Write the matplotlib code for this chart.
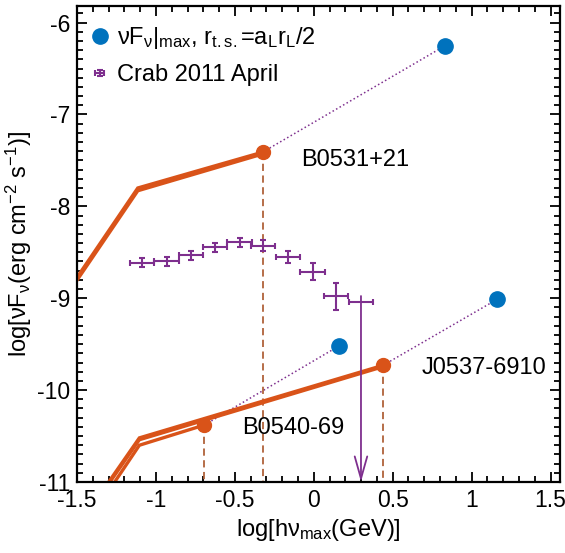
import numpy as np
import matplotlib.pyplot as plt
from matplotlib.container import ErrorbarContainer
from matplotlib.legend_handler import HandlerErrorbar

plt.rcParams['font.family'] = ['Liberation Sans', 'DejaVu Sans']
plt.rcParams['mathtext.fontset'] = 'custom'
plt.rcParams['mathtext.rm'] = 'Liberation Sans'
plt.rcParams['mathtext.it'] = 'Liberation Sans'

# maximum of nu F_nu for r_ts = a_L r_L / 2 (blue)
blue_x = [0.833, 0.159, 1.163]
blue_y = [-6.25, -9.52, -9.01]

# peak points of the model spectra (orange): B0531+21, B0540-69, J0537-6910
peak_x = [-0.324, -0.693, 0.439]
peak_y = [-7.41, -10.38, -9.73]

# model spectra (two slightly different lines each)
b0531_x = [-1.55, -1.115, -0.324]
b0531_y1 = [-8.90, -7.80, -7.41]
b0531_y2 = [-8.93, -7.83, -7.43]
b0540_x = [-1.32, -1.105, -0.693]
b0540_y = [-11.15, -10.60, -10.38]
j0537_x = [-1.36, -1.105, 0.439]
j0537_y1 = [-11.15, -10.52, -9.73]
j0537_y2 = [-11.17, -10.54, -9.745]

# Crab 2011 April flare
crab_x = [-1.089, -0.933, -0.778, -0.625, -0.470, -0.322, -0.163, -0.008, 0.140]
crab_y = [-8.611, -8.596, -8.531, -8.444, -8.393, -8.429, -8.553, -8.709, -8.981]
crab_yerr = [0.05, 0.05, 0.05, 0.05, 0.05, 0.06, 0.064, 0.09, 0.145]
crab_xerr = 0.077
ul_x, ul_y = 0.299, -9.036

names = ['B0531+21', 'B0540-69', 'J0537-6910']
name_x = [-0.08, -0.455, 0.685]
name_y = [-7.49, -10.41, -9.76]

c_blue = '#0072BD'
c_orange = '#D95319'
c_purple = '#7E2F8E'
c_brown = '#B0623A'

fig = plt.figure(figsize=[5.65, 5.53], dpi=100)
ax = fig.add_axes([0.1363, 0.1284, 0.8549, 0.8606])
ax.set_xlim(-1.5, 1.56)
ax.set_ylim(-11, -5.82)

# dotted connections
for i in range(3):
    ax.plot([peak_x[i], blue_x[i]], [peak_y[i], blue_y[i]], ':', color=c_purple, lw=1.1)

# dashed verticals
for i in range(3):
    ax.plot([peak_x[i], peak_x[i]], [peak_y[i], -11], '--', color=c_brown, lw=1.3, dashes=(4, 2.5))

# model spectra
for yy in (b0531_y1, b0531_y2):
    ax.plot(b0531_x, yy, color=c_orange, lw=2.4, solid_joinstyle='miter')
ax.plot(b0540_x, b0540_y, color=c_orange, lw=2.4, solid_joinstyle='miter')
for yy in (j0537_y1, j0537_y2):
    ax.plot(j0537_x, yy, color=c_orange, lw=2.4, solid_joinstyle='miter')

ax.plot(peak_x, peak_y, 'o', color=c_orange, ms=10, zorder=5)
ax.plot(blue_x, blue_y, 'o', color=c_blue, ms=11, zorder=5,
        label=r'$\nu$F$_\nu$|$_{\rm max}$, r$_{\rm t.s.}$=a$_{\rm L}$r$_{\rm L}$/2')

ax.errorbar(crab_x, crab_y, xerr=crab_xerr, yerr=crab_yerr, fmt='none',
            ecolor=c_purple, elinewidth=1.5, capsize=2.5, capthick=1.5,
            label='Crab 2011 April')
ax.errorbar([ul_x], [ul_y], xerr=crab_xerr, fmt='none',
            ecolor=c_purple, elinewidth=1.5, capsize=2.5, capthick=1.5)
ax.annotate('', xy=(ul_x, -11), xytext=(ul_x, ul_y + 0.06),
            arrowprops=dict(arrowstyle='->,head_length=1.6,head_width=0.45',
                            color=c_purple, lw=1.3, shrinkA=0, shrinkB=0))

for i in range(3):
    ax.text(name_x[i], name_y[i], names[i], fontsize=17, va='center', ha='left')

ax.set_xlabel(r'log[h$\nu_{\rm max}$(GeV)]', fontsize=17, labelpad=4)
ax.set_ylabel(r'log[$\nu$F$_\nu$(erg cm$^{-2}$ s$^{-1}$)]', fontsize=17, labelpad=2)

ax.set_xticks([-1.5, -1, -0.5, 0, 0.5, 1, 1.5])
ax.set_xticklabels(['-1.5', '-1', '-0.5', '0', '0.5', '1', '1.5'])
ax.set_xticks(np.arange(-1.5, 1.56, 0.1), minor=True)
ax.set_yticks([-11, -10, -9, -8, -7, -6])
ax.set_yticklabels(['-11', '-10', '-9', '-8', '-7', '-6'])
ax.set_yticks(np.arange(-11, -5.8, 0.1), minor=True)
ax.tick_params(which='both', direction='in', top=True, right=True, width=1.3, labelsize=16.5)
ax.tick_params(which='major', length=7, pad=5)
ax.tick_params(which='minor', length=4)
for s in ax.spines.values():
    s.set_linewidth(1.6)

ax.legend(loc='upper left', bbox_to_anchor=(-0.012, 0.995), frameon=False, fontsize=17,
          handletextpad=0.25, borderaxespad=0.3, labelspacing=0.55, handlelength=1.0,
          handler_map={ErrorbarContainer: HandlerErrorbar(xerr_size=0.2, yerr_size=0.12)})

fig.savefig('out.png', dpi=100)
